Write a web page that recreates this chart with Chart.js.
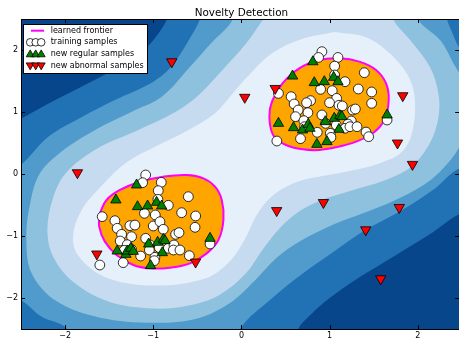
<!DOCTYPE html>
<html>
<head>
<meta charset="utf-8">
<script src="https://cdn.jsdelivr.net/npm/chart.js@4.4.1/dist/chart.umd.min.js"></script>
<style>
  html, body { margin: 0; padding: 0; background: #fff; overflow: hidden; }
  canvas { display: block; }
</style>
</head>
<body>
<canvas id="novelty" width="459" height="341"></canvas>
<script>
const xTicks = [-2, -1, 0, 1, 2];
const yTicks = [-2, -1, 0, 1, 2];
const bandColors = ['#08468c', '#2171b5', '#509bcb', '#8dc1dd', '#c6dbef', '#e6f0fa'];

// filled bands of the decision function
// (points beyond the axes are only there to close the shapes, they get clipped)
const band0 = [[-3, -3], [3, -3], [3, 3], [-3, 3]];
const band1 = [[-3, 0.5], [-2.5, 0.89], [-2.1, 1.2], [-1.66, 1.52], [-1.3, 1.8], [-1.07, 2.05], [-0.95, 2.25],
  [-0.845, 2.5], [-0.75, 3], [3, 3], [3, -0.4], [2.47, -0.65], [2.18, -0.93], [1.92, -1.16], [1.61, -1.43],
  [1.3, -1.7], [1.0, -2.0], [0.8, -2.25], [0.645, -2.5], [0.55, -3], [-3, -3]];
const band2 = [[-3, -0.4], [-2.5, 0.145], [-2.19, 0.6], [-1.81, 0.92], [-1.44, 1.19], [-1.06, 1.44], [-0.85, 1.65],
  [-0.7, 1.92], [-0.58, 2.2], [-0.47, 2.5], [-0.38, 3], [2.25, 3], [2.33, 2.5], [2.4, 2.25], [2.47, 2.04],
  [2.6, 1.85], [3, 1.5], [3, 0.3], [2.47, 0.09], [2.18, -0.25], [1.8, -0.6], [1.41, -0.9], [1.05, -1.25],
  [0.7, -1.6], [0.35, -2.0], [-0.015, -2.5], [-0.1, -3], [-1.9, -3], [-1.98, -2.5], [-2.27, -2.3],
  [-2.5, -2.04], [-3, -1.8]];
const band3 = [[-0.094, 2.8], [-0.094, 2.5], [-0.35, 2.1], [-0.6, 1.7], [-0.9, 1.25], [-1.25, 1.0],
  [-1.66, 0.71], [-2.05, 0.35], [-2.29, 0.0], [-2.4, -0.5], [-2.44, -1.05], [-2.38, -1.6], [-2.1, -2.05],
  [-1.6, -2.32], [-1.0, -2.4], [-0.5, -2.33], [-0.14, -2.09], [0.15, -1.72], [0.4, -1.35], [0.67, -1.08],
  [1.05, -0.81], [1.35, -0.65], [1.73, -0.43], [2.03, -0.21], [2.26, 0.05], [2.47, 0.43], [2.58, 0.9],
  [2.55, 1.4], [2.41, 1.77], [2.26, 2.15], [2.0, 2.5], [2.0, 2.8]];
const band4 = [[0.25, 2.8], [1.72, 2.8], [1.72, 2.5], [1.92, 2.15], [2.14, 1.72], [2.24, 1.24], [2.22, 0.81],
  [2.11, 0.43], [1.92, 0.11], [1.61, -0.11], [1.24, -0.27], [0.89, -0.43], [0.67, -0.59], [0.45, -0.85],
  [0.25, -1.2], [0.05, -1.6], [-0.25, -1.95], [-0.6, -2.12], [-1.0, -2.17], [-1.5, -2.06], [-1.9, -1.75],
  [-2.13, -1.35], [-2.2, -0.95], [-2.15, -0.45], [-2.0, 0.0], [-1.65, 0.4], [-1.17, 0.71], [-0.75, 1.0],
  [-0.48, 1.28], [-0.2, 1.7], [0.05, 2.1], [0.25, 2.5]];
const band5 = [[1.05, 2.29], [1.42, 2.2], [1.73, 1.88], [1.92, 1.5], [1.97, 1.08], [1.92, 0.59], [1.8, 0.33],
  [1.6, 0.19], [1.42, 0.11], [1.05, 0.0], [0.67, -0.11], [0.4, -0.3], [0.2, -0.6], [0.02, -1.1], [-0.14, -1.42],
  [-0.4, -1.68], [-1.0, -1.8], [-1.55, -1.66], [-1.85, -1.32], [-1.91, -1.0], [-1.82, -0.6], [-1.63, -0.26],
  [-1.32, 0.17], [-0.98, 0.44], [-0.6, 0.71], [-0.3, 0.98], [-0.1, 1.3], [0.09, 1.6], [0.35, 1.95],
  [0.67, 2.17], [1.05, 2.29]];

// learned frontier (decision function = 0) around each cluster
const frontierUpper = [[0.353, 1.194], [0.466, 1.462], [0.656, 1.704], [0.883, 1.839], [1.11, 1.866],
  [1.337, 1.812], [1.527, 1.677], [1.64, 1.462], [1.671, 1.194], [1.621, 0.871], [1.489, 0.656], [1.3, 0.522],
  [1.072, 0.43], [0.883, 0.387], [0.694, 0.398], [0.504, 0.468], [0.372, 0.602], [0.322, 0.817],
  [0.322, 1.032], [0.353, 1.194]];
const frontierLower = [[-1.606, -0.634], [-1.53, -0.419], [-1.378, -0.258], [-1.151, -0.124], [-0.886, -0.043],
  [-0.621, -0.016], [-0.431, -0.07], [-0.299, -0.204], [-0.223, -0.419], [-0.204, -0.742], [-0.261, -1.065],
  [-0.394, -1.28], [-0.583, -1.441], [-0.81, -1.511], [-1.037, -1.522], [-1.227, -1.468], [-1.416, -1.306],
  [-1.549, -1.091], [-1.613, -0.849], [-1.606, -0.634]];

const trainingSamples = [
  [0.913, 1.973], [0.875, 1.88], [1.095, 1.88], [1.057, 1.74], [1.394, 1.634], [1.175, 1.489], [1.057, 1.597],
  [0.898, 1.366], [1.03, 1.344], [1.326, 1.371], [1.477, 1.323], [0.564, 1.247], [1.08, 1.22], [0.598, 1.129],
  [1.0, 1.15], [0.784, 1.183], [0.739, 1.15], [1.477, 1.14], [0.644, 1.032], [0.754, 0.989], [1.106, 1.108],
  [1.144, 1.097], [1.261, 1.032], [1.292, 1.048], [0.614, 0.925], [0.913, 0.952], [0.708, 0.86], [0.716, 0.763],
  [0.955, 0.817], [1.076, 0.79], [1.246, 0.855], [1.208, 0.806], [1.175, 0.737], [1.231, 0.763], [1.311, 0.763],
  [1.008, 0.656], [1.015, 0.591], [0.86, 0.672], [0.67, 0.57], [0.402, 0.532], [1.413, 0.677], [1.443, 0.602],
  [1.652, 0.871], [0.42, 1.30],
  [-1.086, -0.016], [-1.121, -0.14], [-0.909, -0.134], [-0.943, -0.269], [-0.947, -0.409], [-0.829, -0.505],
  [-0.602, -0.366], [-1.1, -0.634], [-0.678, -0.624], [-0.519, -0.677], [-0.977, -0.661], [-1.579, -0.688],
  [-1.435, -0.753], [-1.409, -0.876], [-1.265, -0.833], [-1.208, -0.823], [-1.0, -0.839], [-0.924, -0.769],
  [-0.886, -0.892], [-1.359, -0.973], [-1.246, -1.011], [-1.375, -1.081], [-1.086, -1.038], [-0.746, -0.973],
  [-0.708, -0.946], [-0.526, -0.86], [-1.295, -1.14], [-1.329, -1.231], [-1.246, -1.215], [-1.143, -1.323],
  [-1.037, -1.145], [-1.044, -1.226], [-0.981, -1.344], [-0.988, -1.398], [-0.931, -1.188], [-0.829, -1.199],
  [-0.765, -1.145], [-0.772, -1.226], [-0.697, -1.226], [-0.591, -1.317], [-0.356, -1.129], [-1.341, -1.43],
  [-1.606, -1.468]];
const regularSamples = [
  [0.81, 1.81], [0.58, 1.58], [0.826, 1.473], [0.94, 1.489], [1.046, 1.559], [1.095, 1.489], [0.42, 0.817],
  [0.591, 0.747], [0.693, 0.71], [0.758, 0.80], [0.777, 0.737], [0.951, 0.844], [1.053, 0.898], [1.117, 0.941],
  [1.14, 0.925], [1.106, 0.72], [0.856, 0.478], [0.97, 0.522], [1.652, 0.952],
  [-1.189, -0.177], [-1.424, -0.419], [-1.178, -0.527], [-1.064, -0.516], [-0.962, -0.457], [-0.905, -0.516],
  [-1.052, -1.129], [-0.95, -1.102], [-0.886, -1.054], [-0.867, -1.075], [-1.409, -1.242], [-1.31, -1.296],
  [-1.295, -1.242], [-1.254, -1.199], [-1.227, -1.247], [-0.897, -1.269], [-1.03, -1.478], [-0.356, -1.038]];
const abnormalSamples = [
  [-0.79, 1.81], [0.038, 1.237], [0.383, 1.38], [1.83, 1.263], [1.77, 0.5], [1.94, 0.155], [-1.86, 0.02],
  [-1.64, -1.29], [-0.52, -1.42], [0.40, -0.59], [0.93, -0.46], [1.79, -0.54], [1.41, -0.9], [1.58, -1.69]];

const toXY = list => list.map(p => ({x: p[0], y: p[1]}));
const fmtTick = v => (v < 0 ? '\u2212' + Math.abs(v) : String(v));

const bandSets = [band0, band1, band2, band3, band4, band5].map((band, i) => ({
  data: toXY(band),
  showLine: true,
  fill: 'shape',
  backgroundColor: bandColors[i],
  borderWidth: 0,
  pointRadius: 0,
  tension: i === 0 ? 0 : 0.35,
  order: 100 - i
}));

const frontierSets = [frontierUpper, frontierLower].map(f => ({
  data: toXY(f),
  showLine: true,
  fill: 'shape',
  backgroundColor: '#ffa500',
  borderColor: '#ff00ff',
  borderWidth: 2,
  pointRadius: 0,
  tension: 0.4,
  order: 10
}));

const markerSets = [
  {data: toXY(trainingSamples), pointStyle: 'circle', pointRadius: 4.9, pointBackgroundColor: '#ffffff',
    pointBorderColor: '#000', pointBorderWidth: 0.8, order: 3},
  {data: toXY(regularSamples), pointStyle: 'triangle', pointRadius: 6, pointBackgroundColor: '#008000',
    pointBorderColor: '#000', pointBorderWidth: 0.8, order: 2},
  {data: toXY(abnormalSamples), pointStyle: 'triangle', pointRotation: 180, pointRadius: 6,
    pointBackgroundColor: '#ff0000', pointBorderColor: '#000', pointBorderWidth: 0.8, order: 1}
];

// frame, inward ticks, legend and title like the matplotlib figure
const decorations = {
  id: 'decorations',
  afterDatasetsDraw(chart) {
    const {ctx, chartArea: a, scales} = chart;
    ctx.save();
    ctx.strokeStyle = '#000';
    ctx.lineWidth = 1;
    ctx.strokeRect(a.left + 0.5, a.top + 0.5, a.right - a.left, a.bottom - a.top);
    ctx.beginPath();
    xTicks.forEach(v => {
      const px = Math.round(scales.x.getPixelForValue(v)) + 0.5;
      ctx.moveTo(px, a.bottom); ctx.lineTo(px, a.bottom - 4);
      ctx.moveTo(px, a.top); ctx.lineTo(px, a.top + 4);
    });
    yTicks.forEach(v => {
      const py = Math.round(scales.y.getPixelForValue(v)) + 0.5;
      ctx.moveTo(a.left, py); ctx.lineTo(a.left + 4, py);
      ctx.moveTo(a.right, py); ctx.lineTo(a.right - 4, py);
    });
    ctx.stroke();

    // legend
    const lx = 23, ly = 24, rows = [30.7, 42.3, 54, 65.7];
    ctx.fillStyle = '#fff';
    ctx.fillRect(lx, ly, 124, 49);
    ctx.strokeRect(lx + 0.5, ly + 0.5, 124, 49);
    ctx.strokeStyle = '#ff00ff';
    ctx.lineWidth = 2;
    ctx.beginPath(); ctx.moveTo(31, rows[0]); ctx.lineTo(44, rows[0]); ctx.stroke();
    const xs = [30.2, 35.7, 41.2];
    ctx.strokeStyle = '#000';
    ctx.lineWidth = 0.8;
    xs.forEach(x => {
      ctx.fillStyle = '#fff';
      Chart.helpers.drawPoint(ctx, {pointStyle: 'circle', radius: 3.8, borderWidth: 0.8}, x, rows[1]);
    });
    xs.forEach(x => {
      ctx.fillStyle = '#008000';
      Chart.helpers.drawPoint(ctx, {pointStyle: 'triangle', radius: 4.6, borderWidth: 0.8}, x, rows[2] + 0.5);
    });
    xs.forEach(x => {
      ctx.fillStyle = '#ff0000';
      Chart.helpers.drawPoint(ctx, {pointStyle: 'triangle', radius: 4.6, rotation: 180, borderWidth: 0.8}, x, rows[3] - 0.5);
    });
    ctx.fillStyle = '#000';
    ctx.font = '8px "DejaVu Sans"';
    ctx.textBaseline = 'middle';
    ctx.textAlign = 'left';
    ['learned frontier', 'training samples', 'new regular samples', 'new abnormal samples']
      .forEach((t, i) => ctx.fillText(t, 50.7, rows[i]));

    ctx.font = '10.4px "DejaVu Sans"';
    ctx.textAlign = 'center';
    ctx.textBaseline = 'alphabetic';
    ctx.fillText('Novelty Detection', scales.x.getPixelForValue(0), 16);
    ctx.restore();
  }
};

const whiteBackground = {
  id: 'whiteBackground',
  beforeDraw(chart) {
    const ctx = chart.ctx;
    ctx.save();
    ctx.fillStyle = '#fff';
    ctx.fillRect(0, 0, chart.width, chart.height);
    ctx.restore();
  }
};

// keep the axes box fixed: no extra room for the outer tick labels
const noPadding = s => {
  s.paddingLeft = 0;
  s.paddingRight = 0;
  s.paddingTop = 0;
  s.paddingBottom = 0;
};

const canvas = document.getElementById('novelty');

function build() {
  return new Chart(canvas, {
    type: 'scatter',
    data: {datasets: [...markerSets, ...frontierSets, ...bandSets]},
    options: {
      responsive: false,
      animation: false,
      devicePixelRatio: 1,
      layout: {padding: {top: 19, left: 0, right: 0, bottom: 0}},
      elements: {line: {capBezierPoints: false}},
      plugins: {legend: {display: false}, tooltip: {enabled: false}, title: {display: false}},
      scales: {
        x: {
          type: 'linear', min: -2.5, max: 2.47,
          afterBuildTicks: s => { s.ticks = xTicks.map(v => ({value: v})); },
          afterFit: s => { s.height = 12; noPadding(s); },
          grid: {display: false, drawTicks: false},
          border: {display: false},
          ticks: {callback: fmtTick, color: '#000', font: {family: 'DejaVu Sans', size: 8}, padding: 2, maxRotation: 0}
        },
        y: {
          type: 'linear', min: -2.5, max: 2.5,
          afterBuildTicks: s => { s.ticks = yTicks.map(v => ({value: v})); },
          afterFit: s => { s.width = 21; noPadding(s); },
          grid: {display: false, drawTicks: false},
          border: {display: false},
          ticks: {callback: fmtTick, color: '#000', font: {family: 'DejaVu Sans', size: 8}, padding: 3}
        }
      }
    },
    plugins: [whiteBackground, decorations]
  });
}

let chart = build();
// the axes run up to the right edge of the window: if the layout kept a gap there,
// widen the canvas by that gap (the overflow is hidden) and draw again
const gap = Math.round(chart.width - chart.chartArea.right);
if (gap > 0) {
  chart.destroy();
  canvas.width = 459 + gap;
  canvas.height = 341;
  chart = build();
}
</script>
</body>
</html>
